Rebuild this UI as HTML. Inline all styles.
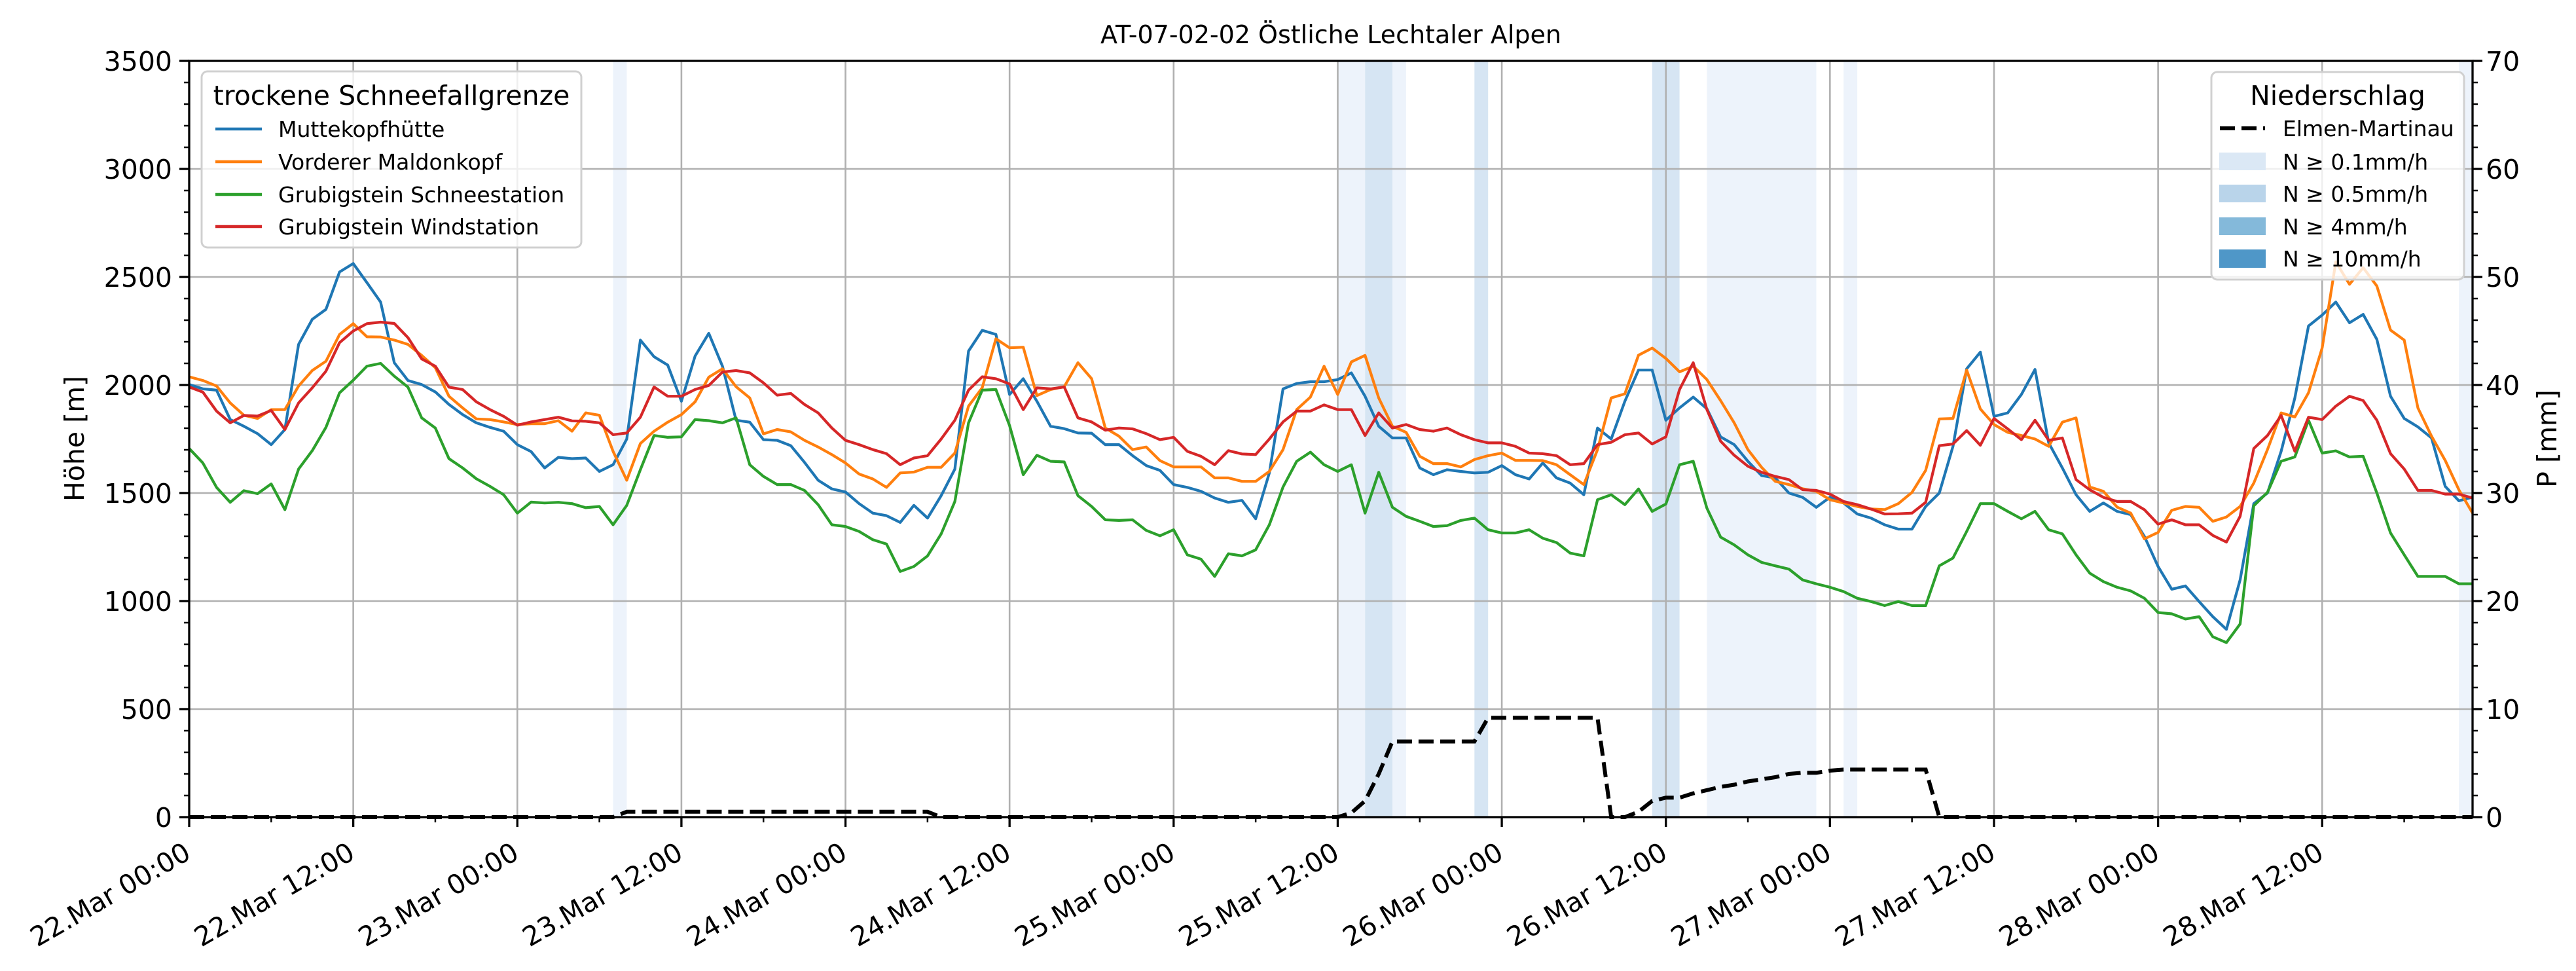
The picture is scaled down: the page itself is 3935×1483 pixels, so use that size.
<!DOCTYPE html>
<html><head><meta charset="utf-8"><style>
html,body{margin:0;padding:0;background:#fff;}
svg{display:block;font-family:"DejaVu Sans","Liberation Sans",sans-serif;}
</style></head><body>
<svg id="chart" xmlns="http://www.w3.org/2000/svg" width="3935" height="1483" viewBox="0 0 3935 1483">
<rect width="3935" height="1483" fill="#fff"/>
<g id="bands"></g>
<g id="grid"></g>
<g id="lines"></g>
<g id="axes"></g>
<text x="2033" y="66" font-size="38" text-anchor="middle">AT-07-02-02 Östliche Lechtaler Alpen</text>
<text transform="translate(128,670) rotate(-90)" font-size="41" text-anchor="middle">Höhe [m]</text>
<text transform="translate(3905,670) rotate(-90)" font-size="41" text-anchor="middle">P [mm]</text>
<g id="legend-left">
<rect x="308" y="109" width="580" height="269" rx="9" fill="#fff" fill-opacity="0.8" stroke="#d0d0d0" stroke-width="3"/>
<text x="598" y="160" font-size="41" text-anchor="middle">trockene Schneefallgrenze</text>
<line x1="329" y1="197" x2="400" y2="197" stroke="#1f77b4" stroke-width="4.5"/><text x="425" y="209" font-size="33">Muttekopfhütte</text>
<line x1="329" y1="247" x2="400" y2="247" stroke="#ff7f0e" stroke-width="4.5"/><text x="425" y="259" font-size="33">Vorderer Maldonkopf</text>
<line x1="329" y1="297" x2="400" y2="297" stroke="#2ca02c" stroke-width="4.5"/><text x="425" y="309" font-size="33">Grubigstein Schneestation</text>
<line x1="329" y1="346" x2="400" y2="346" stroke="#d62728" stroke-width="4.5"/><text x="425" y="358" font-size="33">Grubigstein Windstation</text>
</g>
<g id="legend-right">
<rect x="3378" y="110" width="386" height="317" rx="9" fill="#fff" fill-opacity="0.8" stroke="#d0d0d0" stroke-width="3"/>
<text x="3571" y="160" font-size="41" text-anchor="middle">Niederschlag</text>
<line x1="3391" y1="196" x2="3460" y2="196" stroke="#000" stroke-width="6" stroke-dasharray="23,10"/><text x="3487" y="208" font-size="33">Elmen-Martinau</text>
<rect x="3390" y="233" width="71" height="27" fill="#dbe8f5"/><text x="3487" y="259" font-size="33">N ≥ 0.1mm/h</text>
<rect x="3390" y="282" width="71" height="27" fill="#b9d4ea"/><text x="3487" y="308" font-size="33">N ≥ 0.5mm/h</text>
<rect x="3390" y="332" width="71" height="27" fill="#84b9da"/><text x="3487" y="358" font-size="33">N ≥ 4mm/h</text>
<rect x="3390" y="381" width="71" height="28" fill="#4f97c8"/><text x="3487" y="407" font-size="33">N ≥ 10mm/h</text>
</g>
</svg>
<script>
const hours = Array.from({length:168},(_,i)=>i);
const muttekopf = [2002,1982,1976,1840,1809,1775,1724,1794,2188,2304,2350,2523,2562,2474,2384,2103,2021,2002,1968,1910,1863,1825,1804,1786,1724,1692,1616,1665,1659,1662,1600,1631,1750,2208,2131,2092,1925,2134,2239,2087,1837,1828,
1747,1744,1719,1642,1559,1519,1505,1451,1407,1395,1364,1443,1384,1488,1611,2157,2253,2234,1956,2029,1925,1809,1798,1778,1777,1724,1724,1673,1627,1605,1539,1526,1508,1477,1457,1466,1381,1593,1982,2007,2015,2015,
2025,2056,1948,1809,1755,1755,1616,1585,1608,1600,1593,1596,1627,1585,1565,1639,1570,1546,1492,1801,1750,1925,2069,2069,1837,1894,1944,1890,1760,1724,1647,1581,1570,1500,1480,1434,1480,1454,1403,1384,1353,
1333,1333,1438,1500,1716,2075,2152,1855,1871,1956,2072,1732,1616,1492,1415,1454,1415,1400,1299,1160,1055,1070,998,928,869,1098,1451,1500,1693,1940,2273,2324,2384,2288,2327,2211,1948,1845,1806,1755,1531,1464,1481];
const maldonkopf = [2038,2021,1995,1917,1860,1845,1886,1886,1995,2067,2110,2234,2284,2223,2222,2208,2188,2137,2080,1948,1894,1843,1840,1829,1817,1821,1821,1835,1786,1871,1860,1693,1559,1729,1786,1828,1863,1922,2036,2075,1992,1940,
1774,1794,1783,1744,1713,1678,1639,1588,1565,1526,1593,1597,1619,1619,1685,1902,1987,2214,2172,2175,1951,1979,1992,2103,2029,1801,1763,1701,1713,1650,1621,1621,1621,1570,1570,1554,1554,1600,1701,1886,1944,2087,
1956,2107,2137,1940,1809,1781,1670,1636,1636,1621,1655,1673,1685,1651,1651,1650,1631,1585,1539,1701,1940,1959,2138,2171,2123,2061,2087,2025,1928,1825,1701,1619,1554,1539,1520,1508,1469,1454,1438,1426,1423,
1451,1503,1605,1843,1845,2069,1889,1817,1781,1766,1750,1716,1828,1848,1528,1508,1435,1407,1288,1318,1420,1438,1434,1369,1389,1438,1546,1701,1871,1852,1964,2172,2570,2466,2543,2458,2254,2208,1894,1763,1651,1515,1407];
const schneestation = [1706,1639,1526,1457,1511,1497,1542,1423,1611,1696,1804,1964,2022,2087,2100,2041,1990,1848,1801,1659,1616,1566,1531,1492,1407,1458,1454,1457,1451,1432,1438,1353,1443,1608,1766,1758,1760,1840,1835,1825,1848,1631,
1577,1539,1539,1512,1446,1353,1345,1322,1284,1264,1137,1160,1209,1311,1461,1825,1976,1979,1812,1585,1675,1647,1644,1488,1438,1376,1373,1376,1327,1302,1330,1214,1194,1114,1219,1209,1237,1353,1528,1647,1689,1631,
1600,1631,1407,1596,1434,1392,1369,1345,1349,1373,1384,1330,1315,1315,1330,1291,1271,1222,1209,1469,1492,1446,1519,1415,1449,1631,1647,1430,1296,1260,1214,1179,1163,1148,1098,1080,1064,1044,1013,998,979,
998,979,979,1163,1199,1322,1451,1451,1415,1381,1415,1330,1311,1214,1129,1090,1064,1047,1013,947,941,917,928,835,808,894,1441,1503,1647,1667,1837,1685,1695,1667,1670,1500,1315,1214,1114,1114,1114,1080,1080];
const windstation = [1991,1967,1879,1825,1859,1856,1882,1794,1917,1987,2064,2196,2250,2284,2291,2285,2219,2121,2087,1990,1979,1922,1886,1855,1814,1829,1840,1851,1834,1832,1825,1770,1778,1851,1991,1948,1948,1979,1998,2060,2067,2056,
2010,1953,1961,1910,1871,1801,1744,1724,1701,1682,1631,1662,1673,1750,1837,1976,2038,2029,2005,1886,1987,1982,1991,1848,1829,1791,1801,1797,1775,1747,1758,1693,1670,1631,1696,1681,1678,1750,1829,1879,1879,1908,
1886,1886,1766,1871,1801,1817,1794,1786,1801,1770,1747,1732,1732,1716,1685,1682,1673,1631,1636,1724,1735,1770,1778,1727,1760,1979,2103,1886,1740,1675,1624,1596,1577,1562,1515,1512,1495,1461,1446,1426,1403,
1404,1407,1457,1719,1727,1789,1721,1845,1797,1747,1837,1744,1755,1562,1515,1480,1461,1461,1423,1356,1376,1353,1353,1304,1273,1392,1706,1766,1859,1693,1851,1840,1902,1948,1928,1837,1682,1611,1512,1512,1495,1495,1477];
const precipMM = [0,0,0,0,0,0,0,0,0,0,0,0,0,0,0,0,0,0,0,0,0,0,0,0,0,0,0,0,0,0,0,0,
0.5,0.5,0.5,0.5,0.5,0.5,0.5,0.5,0.5,0.5,0.5,0.5,0.5,0.5,0.5,0.5,0.5,0.5,0.5,0.5,0.5,0.5,0.5,
0,0,0,0,0,0,0,0,0,0,0,0,0,0,0,0,0,0,0,0,0,0,0,0,0,0,0,0,0,
0,0.4,1.5,4,7,7,7,7,7,7,7,9.2,9.2,9.2,9.2,9.2,9.2,9.2,9.2,9.2,0,0,0.5,1.5,1.8,1.8,2.2,2.5,2.8,3.0,3.3,3.5,3.7,4.0,4.1,4.1,4.3,4.4,4.4,4.4,4.4,4.4,4.4,4.4,
0,0,0,0,0,0,0,0,0,0,0,0,0,0,0,0,0,0,0,0,0,0,0,0,0,0,0,0,0,0,0,0,0,0,0,0,0,0,0,0];
const bandStart = [31,84,86,88,94,107,111,121,166];
const bandEnd   = [32,86,88,89,95,109,119,122,167];
const bandLevel = [0,0,1,0,1,1,0,0,0];
const xTickLabels = ["22.Mar 00:00","22.Mar 12:00","23.Mar 00:00","23.Mar 12:00","24.Mar 00:00","24.Mar 12:00","25.Mar 00:00","25.Mar 12:00","26.Mar 00:00","26.Mar 12:00","27.Mar 00:00","27.Mar 12:00","28.Mar 00:00","28.Mar 12:00"];
const yTicks = [0,500,1000,1500,2000,2500,3000,3500];
const y2Ticks = [0,10,20,30,40,50,60,70];

const L=289,R=3777,T=93,B=1248,HMAX=167;
const X=h=>L+h*(R-L)/HMAX;
const Y=v=>B-v*(B-T)/3500;
const Y2=p=>B-p*(B-T)/70;
const NS="http://www.w3.org/2000/svg";
function mk(tag,attrs,parent){const e=document.createElementNS(NS,tag);for(const k in attrs)e.setAttribute(k,attrs[k]);parent.appendChild(e);return e;}
const bands=document.getElementById('bands'),grid=document.getElementById('grid'),lines=document.getElementById('lines'),axes=document.getElementById('axes');
const bandColors=["#edf3fb","#d6e5f3"];
bandStart.forEach((s,i)=>{
  const r=mk('rect',{x:X(s),y:T,width:X(bandEnd[i])-X(s),height:B-T,fill:bandColors[bandLevel[i]]},bands);
  
  
});
xTickLabels.forEach((lab,i)=>{
  const x=X(i*12);
  const g=mk('line',{x1:x,y1:T,x2:x,y2:B,stroke:"#b0b0b0","stroke-width":2.6},grid);
  
  
  const t=mk('line',{x1:x,y1:B,x2:x,y2:B+15,stroke:"#000","stroke-width":3.3},axes);
  
  
  const tx=mk('text',{x:0,y:0,"font-size":41,"text-anchor":"end",transform:`translate(${x+5},1310) rotate(-30)`},axes);
  tx.textContent=lab;
  
  
});
for(let h=6;h<=HMAX;h+=12){mk('line',{x1:X(h),y1:B,x2:X(h),y2:B+8,stroke:"#000","stroke-width":2.5},axes);}
yTicks.forEach(v=>{
  const y=Y(v);
  if(v>0&&v<3500){const g=mk('line',{x1:L,y1:y,x2:R,y2:y,stroke:"#b0b0b0","stroke-width":2.6},grid);
  
  }
  mk('line',{x1:L-15,y1:y,x2:L,y2:y,stroke:"#000","stroke-width":3.3},axes);
  const t=mk('text',{x:263,y:y+15,"font-size":41,"text-anchor":"end"},axes);t.textContent=v;
  
  
});
for(let v=100;v<3500;v+=100){if(v%500)mk('line',{x1:L-8,y1:Y(v),x2:L,y2:Y(v),stroke:"#000","stroke-width":2.5},axes);}
y2Ticks.forEach(p=>{
  const y=Y2(p);
  mk('line',{x1:R,y1:y,x2:R+15,y2:y,stroke:"#000","stroke-width":3.3},axes);
  const t=mk('text',{x:3797,y:y+15,"font-size":41},axes);t.textContent=p;
  
  
});
for(let p=2;p<70;p+=2){if(p%10)mk('line',{x1:R,y1:Y2(p),x2:R+8,y2:Y2(p),stroke:"#000","stroke-width":2.5},axes);}
const series=[[muttekopf,"#1f77b4","line-muttekopfhuette"],[maldonkopf,"#ff7f0e","line-vorderer-maldonkopf"],[schneestation,"#2ca02c","line-grubigstein-schneestation"],[windstation,"#d62728","line-grubigstein-windstation"]];
series.forEach(([d,c,n])=>{
  const pts=d.map((v,i)=>X(hours[i]).toFixed(1)+","+Y(v).toFixed(1)).join(" ");
  const p=mk('polyline',{points:pts,fill:"none",stroke:c,"stroke-width":4.2,"stroke-linejoin":"round"},lines);
  
  
});
const pp=precipMM.map((v,i)=>X(hours[i]).toFixed(1)+","+Y2(v).toFixed(1)).join(" ");
const pl=mk('polyline',{points:pp,fill:"none",stroke:"#000","stroke-width":6,"stroke-dasharray":"23,10"},lines);


const frame=mk('rect',{x:L,y:T,width:R-L,height:B-T,fill:"none",stroke:"#000","stroke-width":3.3},axes);


</script>
</body></html>
